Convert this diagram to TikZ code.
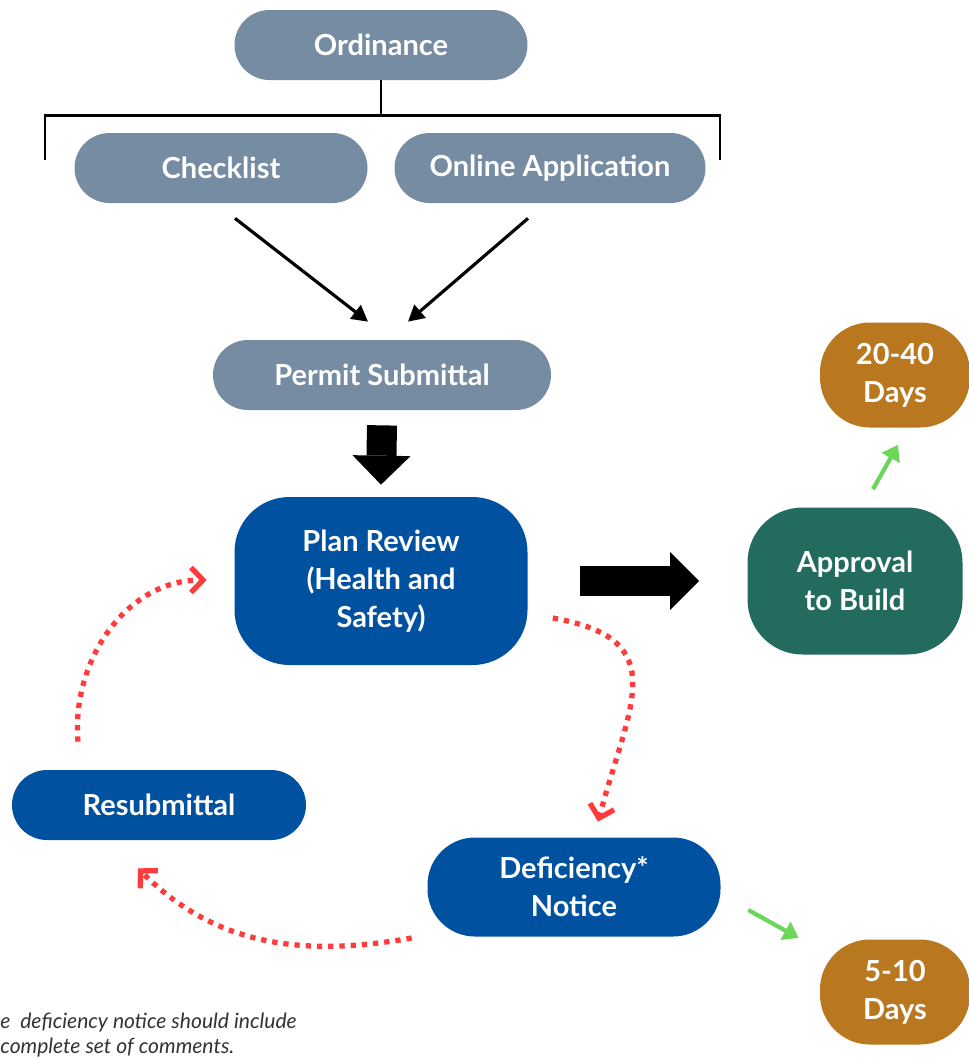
\documentclass[tikz,border=0pt]{standalone}
\usepackage{fontspec}
\setmainfont{Lato}
\usetikzlibrary{arrows.meta,positioning}
\definecolor{slate}{HTML}{768CA3}
\definecolor{deepblue}{HTML}{0051A0}
\definecolor{pine}{HTML}{226B5E}
\definecolor{ochre}{HTML}{B97820}
\definecolor{redline}{HTML}{FF3B3B}
\definecolor{limeline}{HTML}{6CD65A}
\tikzset{
    pill-box/.style = {rectangle, rounded corners=0.7cm, minimum height=1.4cm, inner sep=0pt, text=white, align=center, font=\fontsize{16.5}{21.6}\selectfont\bfseries},
    grey-box/.style = {pill-box, fill=slate},
    blue-box/.style = {pill-box, fill=deepblue},
    green-box/.style = {pill-box, fill=pine, rounded corners=1.1cm},
    days-box/.style = {pill-box, fill=ochre, minimum width=3cm, minimum height=2.1cm, rounded corners=1cm},
    bracket/.style = {draw=black, line width=1.7pt},
    thin-arrow/.style = {draw=black, line width=1.8pt, -{Triangle[length=0.32cm, width=0.34cm]}},
    big-arrow/.style = {draw=black, line width=0.6cm, line cap=butt, -{Triangle[length=0.58cm, width=1.16cm, line width=0pt 0 0]}},
    dotted-arrow/.style = {draw=redline, line width=3pt, dash pattern=on 3pt off 3.4pt, -{Straight Barb[length=0.24cm, width=0.5cm]}},
    lime-arrow/.style = {draw=limeline, line width=2.4pt, -{Triangle[length=0.3cm, width=0.4cm]}},
    foot-note/.style = {anchor=west, inner sep=0pt, text=black!80, font=\fontsize{12}{14}\selectfont\itshape},
}
\begin{document}
\begin{tikzpicture}
\useasboundingbox (0,0) rectangle (19.38,-21.18);

% top row
\node[grey-box, minimum width=5.86cm] (ordinance) at (7.62,-0.90) {Ordinance};
\node[grey-box, minimum width=5.86cm] (checklist) at (4.42,-3.36) {Checklist};
\node[grey-box, minimum width=6.22cm] (online) at (11.00,-3.36) {Online Application};
\node[grey-box, minimum width=6.76cm] (permit) at (7.64,-7.50) {Permit Submittal};

% review loop
\node[blue-box, minimum width=5.86cm, minimum height=3.36cm, rounded corners=1.1cm] (plan) at (7.62,-11.62) {Plan Review\\(Health and\\Safety)};
\node[green-box, minimum width=4.30cm, minimum height=2.94cm] (approval) at (17.10,-11.62) {Approval\\to Build};
\node[days-box] (days-long) at (17.90,-7.50) {20-40\\Days};
\node[blue-box, minimum width=5.88cm] (resubmittal) at (3.18,-16.10) {Resubmittal};
\node[blue-box, minimum width=5.86cm, minimum height=1.98cm, rounded corners=0.95cm] (deficiency) at (11.48,-17.74) {Deficiency*\\Notice};
\node[days-box] (days-short) at (17.90,-19.84) {5-10\\Days};

% bracket
\coordinate (brace) at (0,-2.30);
\coordinate (brace-left) at (0.90,-3.20);
\coordinate (brace-right) at (14.40,-3.20);
\draw[bracket] (brace-left) -- (brace-left |- brace) -- (brace-right |- brace) -- (brace-right);
\draw[bracket] (ordinance.south) -- (ordinance.south |- brace);

% connectors
\draw[thin-arrow] ([xshift=0.28cm, yshift=-0.30cm]checklist.south) -- ([xshift=-0.28cm, yshift=0.36cm]permit.north);
\draw[thin-arrow] ([xshift=-0.44cm, yshift=-0.30cm]online.south) -- ([xshift=0.52cm, yshift=0.36cm]permit.north);
\draw[big-arrow] ([yshift=-0.30cm]permit.south) -- ([yshift=0.24cm]plan.north);
\draw[big-arrow] ([xshift=1.04cm]plan.east) -- ([xshift=-0.96cm]approval.west);
\draw[lime-arrow] ([xshift=0.36cm, yshift=0.36cm]approval.north) -- ([xshift=0.06cm, yshift=-0.34cm]days-long.south);
\draw[lime-arrow] ([xshift=0.55cm, yshift=-0.46cm]deficiency.east) -- ([xshift=-0.42cm, yshift=1.08cm]days-short.west);
\draw[dotted-arrow] ([xshift=0.50cm, yshift=-0.74cm]plan.east) to[out=-10, in=75, looseness=1.5] ([xshift=0.48cm, yshift=0.31cm]deficiency.north);
\draw[dotted-arrow] ([xshift=-0.31cm, yshift=-1.02cm]deficiency.west) to[out=190, in=-45] ([xshift=-0.42cm, yshift=-0.56cm]resubmittal.south);
\draw[dotted-arrow] ([xshift=-1.62cm, yshift=0.56cm]resubmittal.north) to[out=95, in=180] ([xshift=-0.55cm, yshift=0.02cm]plan.west);

% footnote
\node[foot-note] (note-a) at (0,-20.46) {e\ \ deficiency notice should include};
\node[foot-note, below=0.1cm of note-a.south west, anchor=north west] (note-b) {complete set of comments.};
\end{tikzpicture}
\end{document}
